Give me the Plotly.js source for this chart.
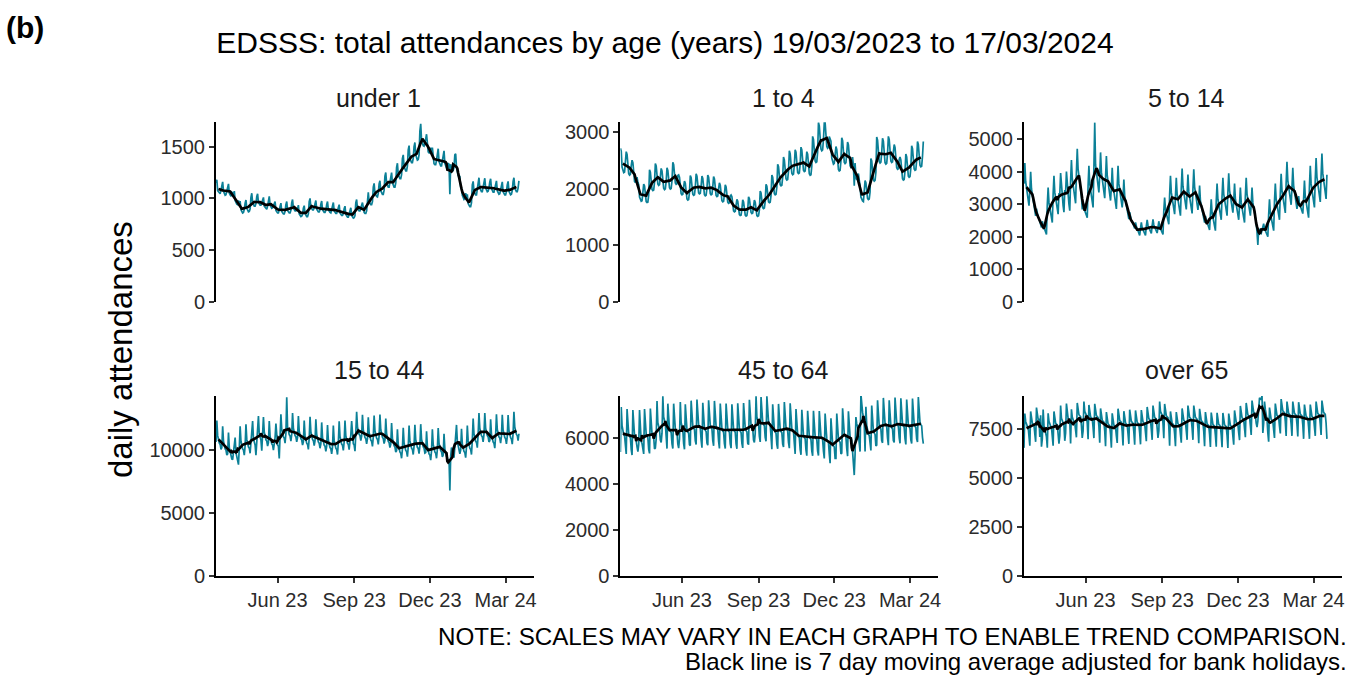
<!DOCTYPE html>
<html><head><meta charset="utf-8">
<script src="https://cdn.plot.ly/plotly-3.0.1.min.js"></script>
<style>html,body{margin:0;padding:0;background:#fff;}#chart{width:1359px;height:675px;}</style>
</head><body><div id="chart"></div>
<script>
// ---- data (daily attendances, 19/03/2023 .. 17/03/2024, one week per row Sun..Sat) ----
const startDate = '2023-03-19';
const xTickVals = ['2023-06-01', '2023-09-01', '2023-12-01', '2024-03-01'];
const xTickText = ['Jun 23', 'Sep 23', 'Dec 23', 'Mar 24'];
const panelTitles = ['under 1', '1 to 4', '5 to 14', '15 to 44', '45 to 64', 'over 65'];

const under1 = [
1150,1180,1075,1060,1050,1045,1080, 1120,1160,1070,1040,1030,1035,1070, 1110,1140,1050,1035,1020,1060,1055,
1030,1070,980,950,945,940,980, 945,975,890,870,860,865,895, 955,985,905,880,870,875,900,
1010,1050,960,935,925,925,950, 1020,1045,960,945,935,935,955, 980,1010,925,910,900,895,925,
990,1020,935,920,905,910,935, 940,970,885,870,860,860,885, 930,955,875,860,850,850,875,
940,970,885,870,860,860,885, 960,990,905,890,880,880,905, 900,935,850,835,825,830,845,
905,930,855,835,825,825,850, 970,1000,915,900,890,890,910, 950,980,895,880,870,870,890,
945,975,890,875,865,865,885, 940,970,890,870,865,860,890, 935,960,880,865,855,855,880,
910,940,860,845,835,835,855, 900,925,845,830,820,820,845, 890,910,835,820,810,815,835,
960,990,905,890,880,880,900, 935,960,880,865,855,855,880, 1030,1060,970,950,940,940,970,
1110,1145,1050,1030,1020,1015,1050, 1140,1170,1075,1050,1040,1040,1080, 1215,1250,1145,1125,1110,1110,1150,
1215,1250,1150,1120,1110,1110,1150, 1300,1340,1230,1200,1190,1190,1230, 1385,1420,1310,1280,1265,1265,1315,
1470,1510,1385,1355,1345,1345,1390, 1500,1540,1420,1385,1370,1375,1420, 1650,1720,1560,1520,1510,1505,1560,
1575,1620,1485,1450,1440,1440,1490, 1450,1490,1365,1335,1325,1325,1370, 1440,1480,1355,1325,1315,1315,1360,
1415,1460,1340,1305,1295,1295,1340, 1330,1040,1330,1290,1260,1270,1300, 1420,1430,1300,1240,1220,1210,1210,
1110,1100,1030,1000,990,1000,1050, 1000,1040,950,930,920,920,960, 1130,1165,1070,1045,1035,1035,1080,
1165,1200,1100,1075,1065,1065,1100, 1160,1195,1100,1080,1065,1070,1100, 1160,1190,1095,1070,1060,1060,1100,
1135,1170,1075,1055,1040,1045,1075, 1125,1160,1065,1040,1035,1035,1065, 1130,1165,1070,1045,1035,1040,1075,
1165,1200,1100,1075,1065,1065,1100, 1170];

const age1to4 = [
2710,2660,2380,2300,2280,2290,2460, 2650,2600,2330,2260,2235,2250,2400, 2500,2455,2195,2125,2105,2170,2200,
2110,2070,1850,1795,1775,1785,1910, 2080,2045,1830,1770,1755,1760,1885, 2330,2290,2050,1985,1965,1975,2110,
2440,2400,2145,2080,2055,2070,2210, 2355,2310,2065,2005,1980,1995,2130, 2365,2320,2075,2015,1990,2000,2140,
2465,2420,2165,2100,2075,2085,2230, 2240,2200,1970,1910,1890,1900,2030, 2130,2095,1870,1815,1795,1805,1930,
2230,2190,1960,1900,1880,1890,2020, 2260,2220,1985,1925,1905,1915,2045, 2220,2180,1950,1890,1870,1880,2010,
2240,2200,1970,1910,1890,1900,2030, 2210,2170,1940,1880,1860,1870,2000, 2100,2060,1845,1785,1765,1775,1900,
2065,2030,1815,1760,1740,1750,1870, 1885,1855,1660,1605,1590,1600,1710, 1810,1775,1590,1540,1525,1530,1640,
1800,1765,1580,1530,1515,1525,1630, 1855,1820,1630,1580,1560,1570,1680, 1795,1760,1575,1525,1510,1520,1625,
1955,1920,1715,1665,1645,1655,1770, 2075,2040,1825,1765,1750,1760,1880, 2240,2200,1970,1910,1890,1900,2030,
2430,2385,2135,2070,2050,2060,2200, 2555,2505,2245,2175,2150,2160,2310, 2665,2615,2340,2270,2245,2255,2410,
2685,2640,2360,2285,2265,2275,2430, 2730,2680,2400,2325,2300,2310,2475, 2650,2605,2330,2260,2235,2245,2400,
2920,2865,2565,2485,2460,2470,2645, 3165,3105,2780,2695,2665,2680,2865, 3160,3160,2830,2740,2710,2725,2915,
2885,2835,2535,2455,2430,2445,2615, 2740,2690,2410,2335,2310,2320,2485, 2895,2845,2545,2465,2440,2455,2625,
2820,2770,2475,2400,2375,2390,2555, 2400,2050,2450,2200,2150,2200,2265, 2150,2050,1850,1800,1780,1770,1900,
2140,2105,1880,1825,1805,1815,1940, 2530,2485,2225,2155,2130,2145,2290, 2910,2855,2555,2475,2450,2465,2635,
2885,2835,2535,2455,2430,2445,2615, 2920,2865,2565,2485,2460,2470,2645, 2775,2725,2440,2365,2340,2350,2515,
2555,2505,2245,2175,2150,2160,2310, 2610,2560,2290,2220,2200,2210,2360, 2755,2705,2420,2345,2320,2330,2495,
2830,2780,2485,2410,2385,2395,2565, 2830];

const age5to14 = [
3625,4260,3695,3520,3415,3170,2955, 3400,3990,3465,3300,3200,2970,2770, 2640,2860,2665,2600,2560,2470,2390,
2285,2475,2305,2250,2215,2140,2070, 2990,3510,3045,2900,2815,2610,2435, 3295,3870,3360,3200,3105,2880,2690,
3335,3300,3950,3400,3300,2950,2755, 3430,3350,4000,3500,3330,3000,2800, 3710,4355,3780,3600,3490,3240,3025,
3995,4695,4075,3880,3765,3490,3260, 2840,3080,2870,2800,2760,2660,2580, 3555,4175,3620,3450,3345,3105,2900,
4120,5500,4200,4000,3880,3600,3360, 3905,4585,3980,3790,3675,3410,3185, 3810,4475,3885,3700,3590,3330,3110,
3500,4115,3570,3400,3300,3060,2855, 3555,4175,3620,3450,3345,3105,2900, 3195,3750,3255,3100,3005,2790,2605,
2540,2750,2560,2500,2465,2375,2300, 2255,2440,2275,2220,2185,2110,2040, 2255,2440,2275,2220,2185,2110,2040,
2325,2520,2345,2290,2255,2175,2105, 2335,2530,2360,2300,2265,2185,2115, 2285,2475,2305,2250,2215,2140,2070,
2800,3200,2850,2720,2640,2450,2380, 3295,3870,3360,3200,3105,2880,2690, 3245,3810,3310,3150,3055,2835,2645,
3480,4090,3550,3380,3280,3040,2840, 3325,3910,3390,3230,3135,2905,2715, 3460,4065,3530,3360,3260,3025,2820,
3040,3570,3100,2950,2860,2655,2480, 2435,2640,2460,2400,2365,2280,2210, 2680,3145,2730,2600,2520,2340,2185,
3090,3630,3150,3000,2910,2700,2520, 3245,3810,3310,3150,3055,2835,2645, 3360,3945,3425,3260,3160,2935,2740,
3090,3630,3150,3000,2910,2700,2520, 2985,3510,3045,2900,2815,2610,2435, 3245,3810,3310,3150,3055,2835,2645,
2985,3510,3045,2900,2815,2610,2435, 2150,1750,2250,2150,2120,2100,2215, 2300,2400,2250,2200,2150,2100,2000,
2680,3145,2730,2600,2520,2340,2185, 3090,3630,3150,3000,2910,2700,2520, 3350,3930,3415,3250,3150,2925,2730,
3655,4295,3730,3550,3445,3195,2980, 3500,4115,3570,3400,3300,3060,2855, 2995,3245,3025,2950,2905,2800,2710,
3170,3725,3235,3080,2990,2770,2585, 3555,4175,3620,3450,3345,3105,2900, 3760,4415,3830,3650,3540,3285,3065,
3875,4550,3950,3760,3645,3385,3160, 3900];

const age15to44 = [
10650,12350,11150,10750,10550,10450,10050, 10200,11900,10700,10300,10100,10000,9600, 9700,11400,10200,9800,9650,9300,9250,
9900,10300,11000,9800,9500,9400,8850, 10200,11900,10700,10300,10100,10000,9600, 10350,12050,10850,10450,10250,10150,9750,
10600,11300,12300,10900,10500,10400,9600, 11000,11600,12700,11300,10900,10800,9960, 10920,12620,11420,11020,10820,10720,10320,
10600,12300,11100,10700,10500,10400,10000, 10500,11000,12100,10700,10400,10300,9340, 11150,12850,11650,11250,11050,10950,10550,
11320,14200,11820,11420,11220,11120,10720, 11250,12950,11750,11350,11150,11050,10650, 11000,12700,11500,11100,10900,10800,10400,
10650,12350,11150,10750,10550,10450,10050, 10950,12650,11450,11050,10850,10750,10350, 10750,12450,11250,10850,10650,10550,10150,
10500,12200,11000,10600,10400,10300,9900, 10300,12000,10800,10400,10200,10100,9700, 10250,11950,10750,10350,10150,10050,9650,
10580,12280,11080,10680,10480,10380,9980, 10640,12340,11140,10740,10540,10440,10040, 10700,11200,12300,10900,10500,10400,9915,
11350,13050,11850,11450,11250,11150,10750, 11100,12800,11600,11200,11000,10900,10500, 10900,12600,11400,11000,10800,10700,10300,
11050,12750,11550,11150,10950,10850,10450, 11120,12820,11620,11220,11020,10920,10520, 10800,12500,11300,10900,10700,10600,10200,
10450,12150,10950,10550,10350,10250,9850, 9950,11650,10450,10050,9850,9750,9350, 10080,11780,10580,10180,9980,9880,9480,
10250,11950,10750,10350,10150,10050,9650, 10320,12020,10820,10420,10220,10120,9720, 10360,12060,10860,10460,10260,10160,9760,
9800,11500,10300,9900,9700,9600,9200, 9950,11650,10450,10050,9850,9750,9350, 10060,11760,10560,10160,9960,9860,9460,
9600,11300,10100,9700,9500,9400,9000, 9300,6800,9500,10200,10000,9900,9400, 10200,11000,12000,10700,10400,10200,9700,
10000,11700,10500,10100,9900,9800,9400, 10250,11950,10750,10350,10150,10050,9650, 10800,12500,11300,10900,10700,10600,10200,
11250,12950,11750,11350,11150,11050,10650, 11250,12950,11750,11350,11150,11050,10650, 10750,12450,11250,10850,10650,10550,10150,
11150,12850,11650,11250,11050,10950,10550, 11100,12800,11600,11200,11000,10900,10500, 11080,12780,11580,11180,10980,10880,10480,
11350,13050,11850,11450,11250,11150,10750, 11300];

const age45to64 = [
5380,7330,6530,6230,6130,6080,5580, 5300,7250,6450,6150,6050,6000,5500, 5250,7200,6400,6100,6100,5700,5600,
5400,5700,7200,6100,5850,5750,5350, 5300,7250,6450,6150,6050,6000,5500, 5320,7270,6470,6170,6070,6020,5520,
5550,5950,7600,6650,6450,6350,5900, 5800,6200,7800,6900,6700,6600,6060, 5530,7480,6680,6380,6280,6230,5730,
5530,7480,6680,6380,6280,6230,5730, 5550,5950,7550,6650,6450,6350,5740, 5500,7450,6650,6350,6250,6200,5700,
5660,7610,6810,6510,6410,6360,5860, 5710,7660,6860,6560,6460,6410,5910, 5570,7520,6720,6420,6320,6270,5770,
5680,7630,6830,6530,6430,6380,5880, 5650,7600,6800,6500,6400,6350,5850, 5540,7490,6690,6390,6290,6240,5740,
5535,7485,6685,6385,6285,6235,5735, 5550,7450,6700,6380,6290,6240,5735, 5520,7500,6670,6390,6280,6230,5755,
5560,7510,6710,6410,6310,6260,5760, 5700,7650,6850,6550,6450,6400,5900, 5800,6200,7800,6900,6700,6600,6060,
5820,7770,6970,6670,6570,6520,6020, 5850,7800,7000,6700,6600,6550,6050, 5500,7450,6650,6350,6250,6200,5700,
5520,7470,6670,6370,6270,6220,5720, 5600,7550,6750,6450,6350,6300,5800, 5550,7500,6700,6400,6300,6250,5750,
5300,7250,6450,6150,6050,6000,5500, 5260,7210,6410,6110,6010,5960,5460, 5220,7170,6370,6070,5970,5920,5420,
5220,7170,6370,6070,5970,5920,5420, 5230,7160,6380,6060,5980,5910,5420, 5100,7050,6250,5950,5850,5800,5300,
4900,6850,6050,5750,5650,5600,5100, 5100,7050,6250,5950,5850,5800,5300, 5330,7280,6480,6180,6080,6030,5530,
5200,7150,6350,6050,5950,5900,5400, 5000,4380,5300,6900,6600,6500,6130, 5600,5400,7900,7400,7100,6900,6600,
5400,7350,6550,6250,6150,6100,5600, 5450,7400,6600,6300,6200,6150,5650, 5680,7630,6830,6530,6430,6380,5880,
5780,7730,6930,6630,6530,6480,5980, 5680,7630,6830,6530,6430,6380,5880, 5800,7750,6950,6650,6550,6500,6000,
5760,7710,6910,6610,6510,6460,5960, 5710,7660,6860,6560,6460,6410,5910, 5750,7700,6900,6600,6500,6450,5950,
5820,7770,6970,6670,6570,6520,6020, 5750];

const over65 = [
6540,8290,7890,7690,7640,7590,7140, 6650,8400,8000,7800,7750,7700,7250, 6850,8600,8200,8000,8000,7100,8200,
6600,7000,8500,7700,7500,7400,7100, 6550,8300,7900,7700,7650,7600,7150, 6650,8400,8000,7800,7750,7700,7250,
6750,7150,8700,8050,7900,7850,7710, 6900,7300,8800,8150,8050,8000,7890, 6760,8510,8110,7910,7860,7810,7360,
7080,8830,8430,8230,8180,8130,7680, 7050,7400,8900,8400,8250,8200,7800, 6980,8730,8330,8130,8080,8030,7580,
7040,8790,8390,8190,8140,8090,7640, 6800,8550,8150,7950,7900,7850,7400, 6620,8370,7970,7770,7720,7670,7220,
6550,8300,7900,7700,7650,7600,7150, 6790,8540,8140,7940,7890,7840,7390, 6660,8410,8010,7810,7760,7710,7260,
6740,8490,8090,7890,7840,7790,7340, 6700,8450,8050,7850,7800,7750,7300, 6720,8470,8070,7870,7820,7770,7320,
6880,8630,8230,8030,7980,7930,7480, 6950,8700,8300,8100,8050,8000,7550, 7050,7400,8900,8400,8250,8200,7800,
7030,8780,8380,8180,8130,8080,7630, 6650,8400,8000,7800,7750,7700,7250, 6620,8370,7970,7770,7720,7670,7220,
6800,8550,8150,7950,7900,7850,7400, 6950,8700,8300,8100,8050,8000,7550, 6950,8700,8300,8100,8050,8000,7550,
6780,8530,8130,7930,7880,7830,7380, 6620,8370,7970,7770,7720,7670,7220, 6590,8340,7940,7740,7690,7640,7190,
6600,8330,7950,7730,7700,7630,7190, 6570,8320,7920,7720,7670,7620,7170, 6540,8290,7890,7690,7640,7590,7140,
6700,8450,8050,7850,7800,7750,7300, 6930,8680,8280,8080,8030,7980,7530, 7080,8830,8430,8230,8180,8130,7680,
7200,8950,8550,8350,8300,8250,7800, 7600,7900,8700,9100,9050,9000,9200, 7300,7800,8900,8500,8200,8000,7300,
6850,8600,8200,8000,7950,7900,7450, 7050,8800,8400,8200,8150,8100,7650, 7280,9030,8630,8430,8380,8330,7880,
7150,8900,8500,8300,8250,8200,7750, 7150,8900,8500,8300,8250,8200,7750, 7120,8870,8470,8270,8220,8170,7720,
7000,8750,8350,8150,8100,8050,7600, 7000,8750,8350,8150,8100,8050,7600, 7150,8900,8500,8300,8250,8200,7750,
7200,8950,8550,8350,8300,8250,7800, 7000];

const seriesList = [under1, age1to4, age5to14, age15to44, age45to64, over65];
const yMax = [1735, 3168, 5508, 14298, 7813, 9187];
const yStep = [500, 1000, 1000, 5000, 2000, 2500];

// ---- helpers ----
function dayDates(n) {
  const t0 = Date.parse(startDate + 'T00:00:00Z');
  const out = [];
  for (let i = 0; i < n; i++) out.push(new Date(t0 + i * 86400000).toISOString().slice(0, 10));
  return out;
}
function movingAverage(v) {
  const out = v.map(() => null);
  for (let i = 3; i < v.length - 3; i++) {
    let s = 0;
    for (let j = i - 3; j <= i + 3; j++) s += v[j];
    out[i] = s / 7;
  }
  return out;
}

const W = 1359, H = 675;
const px = x => x / W;
const py = y => 1 - y / H;
const colLeft = [216, 620.4, 1024];
const colWidth = 317.9;
const rowTop = [122.3, 396];
const rowBottom = [302, 576];
const FONT = 'Liberation Sans, Arial, Helvetica, sans-serif';
const teal = '#0b8097';
const TICK = 20;

const traces = [];
const layout = {
  width: W, height: H,
  margin: {l: 0, r: 0, t: 0, b: 0},
  paper_bgcolor: '#fff', plot_bgcolor: '#fff',
  showlegend: false,
  font: {family: FONT, color: '#000'},
  title: {text: 'EDSSS: total attendances by age (years) 19/03/2023 to 17/03/2024',
          x: px(665), y: py(42), xanchor: 'center', yanchor: 'middle',
          font: {family: FONT, size: 30, color: '#000'}},
  annotations: []
};

seriesList.forEach((vals, k) => {
  const row = Math.floor(k / 3), col = k % 3;
  const ax = k === 0 ? '' : String(k + 1);
  const d = dayDates(vals.length);
  traces.push({x: d, y: vals, type: 'scatter', mode: 'lines', xaxis: 'x' + ax, yaxis: 'y' + ax,
               line: {color: teal, width: 1.7}, hoverinfo: 'skip'});
  traces.push({x: d, y: movingAverage(vals), type: 'scatter', mode: 'lines', xaxis: 'x' + ax, yaxis: 'y' + ax,
               line: {color: '#000', width: 2.7}, hoverinfo: 'skip'});
  const bottom = row === 1;
  layout['xaxis' + ax] = {
    type: 'date', range: ['2023-03-19', '2024-04-04'],
    domain: [px(colLeft[col]), px(colLeft[col] + colWidth)],
    anchor: 'y' + ax,
    tickvals: xTickVals, ticktext: xTickText,
    showgrid: false, zeroline: false,
    showline: bottom, linecolor: '#000', linewidth: 2,
    ticks: bottom ? 'outside' : '', ticklen: 5, tickwidth: 2, tickcolor: '#333',
    showticklabels: bottom, tickfont: {family: FONT, size: TICK, color: '#2b2b2b'}
  };
  layout['yaxis' + ax] = {
    range: [0, yMax[k]], dtick: yStep[k], tick0: 0, tickformat: 'd',
    domain: [py(rowBottom[row]), py(rowTop[row])],
    anchor: 'x' + ax,
    showgrid: false, zeroline: false,
    showline: true, linecolor: '#000', linewidth: 2,
    ticks: 'outside', ticklen: 5, tickwidth: 2, tickcolor: '#333',
    tickfont: {family: FONT, size: TICK, color: '#2b2b2b'}
  };
  layout.annotations.push({
    text: panelTitles[k], xref: 'paper', yref: 'paper',
    x: px(colLeft[col] + colWidth / 2 + 4), y: py(row === 0 ? 98 : 370),
    xanchor: 'center', yanchor: 'middle', showarrow: false,
    font: {family: FONT, size: 25, color: '#1a1a1a'}
  });
});

layout.annotations.push(
  {text: '<b>(b)</b>', xref: 'paper', yref: 'paper', x: px(4), y: py(28), xanchor: 'left', yanchor: 'middle',
   showarrow: false, font: {family: FONT, size: 30, color: '#000'}},
  {text: 'daily attendances', xref: 'paper', yref: 'paper', x: px(120), y: py(350), xanchor: 'center', yanchor: 'middle',
   textangle: -90, showarrow: false, font: {family: FONT, size: 33, color: '#000'}},
  {text: 'NOTE: SCALES MAY VARY IN EACH GRAPH TO ENABLE TREND COMPARISON.', xref: 'paper', yref: 'paper',
   x: px(1349), y: py(636), xanchor: 'right', yanchor: 'middle', showarrow: false,
   font: {family: FONT, size: 24.2, color: '#000'}},
  {text: 'Black line is 7 day moving average adjusted for bank holidays.', xref: 'paper', yref: 'paper',
   x: px(1349), y: py(661), xanchor: 'right', yanchor: 'middle', showarrow: false,
   font: {family: FONT, size: 24, color: '#000'}}
);

Plotly.newPlot('chart', traces, layout, {staticPlot: true, displayModeBar: false});
</script></body></html>
